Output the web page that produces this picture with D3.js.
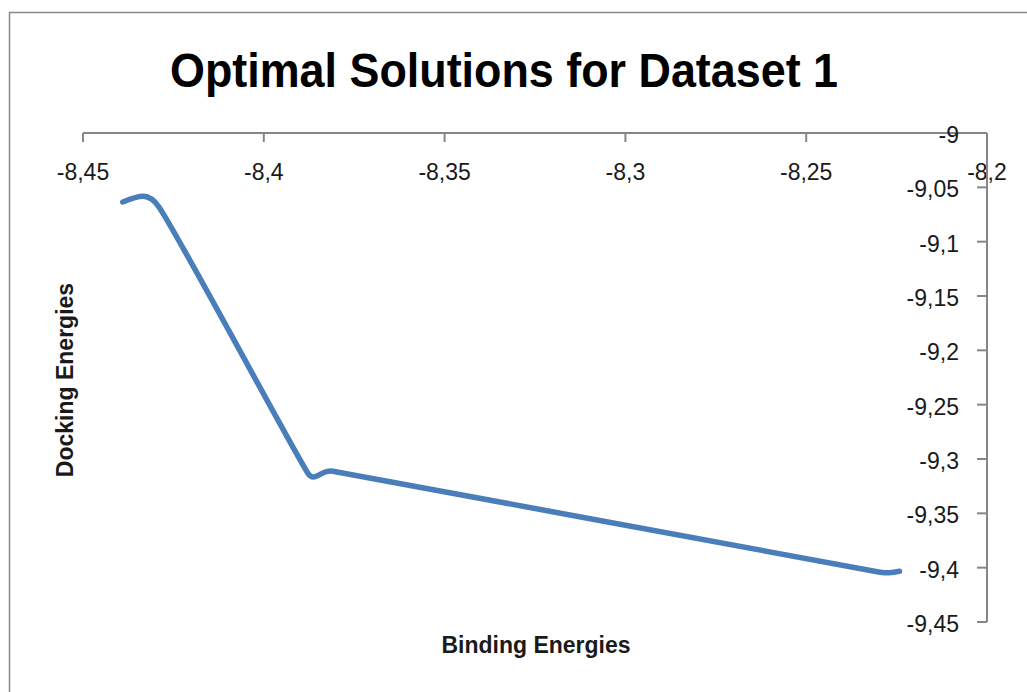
<!DOCTYPE html>
<html>
<head>
<meta charset="utf-8">
<script src="https://cdn.jsdelivr.net/npm/d3@7"></script>
<style>
html,body{margin:0;padding:0;background:#fff;}
svg{display:block;}
text{font-family:"Liberation Sans",Arial,sans-serif;}
</style>
</head>
<body>
<svg id="chart" width="1027" height="692"></svg>
<script>
// Data (Binding energy x, Docking energy y)
const bindingEnergies = [-8.439, -8.4290, -8.3878, -8.3809, -8.2311, -8.2242];
const dockingEnergies = [-9.0635, -9.0681, -9.3131, -9.3112, -9.4033, -9.4033];
const xTicks = [-8.45, -8.4, -8.35, -8.3, -8.25, -8.2];
const xTickLabels = ["-8,45", "-8,4", "-8,35", "-8,3", "-8,25", "-8,2"];
const yTicks = [-9, -9.05, -9.1, -9.15, -9.2, -9.25, -9.3, -9.35, -9.4, -9.45];
const yTickLabels = ["-9", "-9,05", "-9,1", "-9,15", "-9,2", "-9,25", "-9,3", "-9,35", "-9,4", "-9,45"];
const title = "Optimal Solutions for Dataset 1";
const xTitle = "Binding Energies";
const yTitle = "Docking Energies";

// Excel-like smoothed line: Bezier through every point; handle on each side
// scaled by that side's chord, capped by the other side's chord.
// End handles point toward the neighbouring point's handle.
function ExcelSmooth(context) { this._context = context; }
ExcelSmooth.prototype = {
  areaStart() {}, areaEnd() {},
  lineStart() { this._p = []; },
  point(x, y) { this._p.push([+x, +y]); },
  lineEnd() {
    const p = this._p, c = this._context, n = p.length, k = 0.5;
    if (!n) return;
    c.moveTo(p[0][0], p[0][1]);
    if (n === 1) return;
    const dist = (a, b) => Math.hypot(b[0] - a[0], b[1] - a[1]);
    const h = p.map(q => ({inX: q[0], inY: q[1], outX: q[0], outY: q[1]}));
    for (let i = 1; i < n - 1; i++) {
      const q = p[i], a = p[i - 1], b = p[i + 1];
      const L = dist(a, b) || 1;
      const ux = (b[0] - a[0]) / L, uy = (b[1] - a[1]) / L;
      const dPrev = dist(a, q), dNext = dist(q, b);
      const sIn = Math.min(k * dPrev, dNext);
      const sOut = Math.min(k * dNext, dPrev);
      h[i] = {inX: q[0] - ux * sIn, inY: q[1] - uy * sIn, outX: q[0] + ux * sOut, outY: q[1] + uy * sOut};
    }
    // first point
    {
      const q = p[0], t = n > 2 ? [h[1].inX, h[1].inY] : p[1];
      const L = dist(q, t) || 1, s = k * dist(q, p[1]);
      h[0].outX = q[0] + (t[0] - q[0]) / L * s; h[0].outY = q[1] + (t[1] - q[1]) / L * s;
    }
    // last point
    {
      const q = p[n - 1], t = n > 2 ? [h[n - 2].outX, h[n - 2].outY] : p[n - 2];
      const L = dist(q, t) || 1, s = k * dist(q, p[n - 2]);
      h[n - 1].inX = q[0] + (t[0] - q[0]) / L * s; h[n - 1].inY = q[1] + (t[1] - q[1]) / L * s;
    }
    for (let i = 0; i < n - 1; i++) {
      c.bezierCurveTo(h[i].outX, h[i].outY, h[i + 1].inX, h[i + 1].inY, p[i + 1][0], p[i + 1][1]);
    }
  }
};
const excelSmooth = ctx => new ExcelSmooth(ctx);

const svg = d3.select("#chart");

// chart area frame
svg.append("rect").attr("x", 9.5).attr("y", 12.5).attr("width", 1100).attr("height", 800)
  .attr("fill", "#fff").attr("stroke", "#8a8a8a").attr("stroke-width", 1.5);

const x = d3.scaleLinear().domain([-8.45, -8.2]).range([83, 987]);
const y = d3.scaleLinear().domain([-9, -9.45]).range([133, 622]);

const axisColor = "#868686";
const textColor = "#1a1a1a";

// X axis at top (y = -9), ticks pointing down
const gx = svg.append("g");
gx.append("line").attr("x1", x(-8.45)).attr("x2", x(-8.2)).attr("y1", y(-9)).attr("y2", y(-9))
  .attr("stroke", axisColor).attr("stroke-width", 2);
gx.selectAll("line.tick").data(xTicks).enter().append("line").attr("class", "tick")
  .attr("x1", d => x(d)).attr("x2", d => x(d))
  .attr("y1", y(-9)).attr("y2", y(-9) + 9)
  .attr("stroke", axisColor).attr("stroke-width", 2);
gx.selectAll("text").data(xTicks).enter().append("text")
  .attr("x", d => x(d)).attr("y", 180)
  .attr("text-anchor", "middle").attr("font-size", 23).attr("fill", textColor)
  .text((d, i) => xTickLabels[i]);

// Y axis at right (x = -8.2), ticks pointing left
const gy = svg.append("g");
gy.append("line").attr("x1", x(-8.2)).attr("x2", x(-8.2)).attr("y1", y(-9)).attr("y2", y(-9.45))
  .attr("stroke", axisColor).attr("stroke-width", 2);
gy.selectAll("line.tick").data(yTicks).enter().append("line").attr("class", "tick")
  .attr("x1", x(-8.2) - 10).attr("x2", x(-8.2))
  .attr("y1", d => y(d)).attr("y2", d => y(d))
  .attr("stroke", axisColor).attr("stroke-width", 2);
gy.selectAll("text").data(yTicks).enter().append("text")
  .attr("x", 959).attr("y", d => y(d) + 10)
  .attr("text-anchor", "end").attr("font-size", 23).attr("fill", textColor)
  .text((d, i) => yTickLabels[i]);

// Line
const pts = bindingEnergies.map((b, i) => [b, dockingEnergies[i]]);
const line = d3.line().x(d => x(d[0])).y(d => y(d[1])).curve(excelSmooth);
svg.append("path").attr("d", line(pts)).attr("fill", "none")
  .attr("stroke", "#4a7ebb").attr("stroke-width", 5.5)
  .attr("stroke-linecap", "round").attr("stroke-linejoin", "round");

// Titles
svg.append("text").attr("x", 504).attr("y", 87).attr("text-anchor", "middle")
  .attr("font-size", 48).attr("font-weight", "bold").attr("fill", "#000")
  .attr("textLength", 668).attr("lengthAdjust", "spacingAndGlyphs")
  .text(title);
svg.append("text").attr("x", 536).attr("y", 653).attr("text-anchor", "middle")
  .attr("font-size", 23).attr("font-weight", "bold").attr("fill", textColor)
  .text(xTitle);
svg.append("text").attr("transform", "translate(73,380) rotate(-90)").attr("text-anchor", "middle")
  .attr("font-size", 23).attr("font-weight", "bold").attr("fill", textColor)
  .text(yTitle);
</script>
</body>
</html>
